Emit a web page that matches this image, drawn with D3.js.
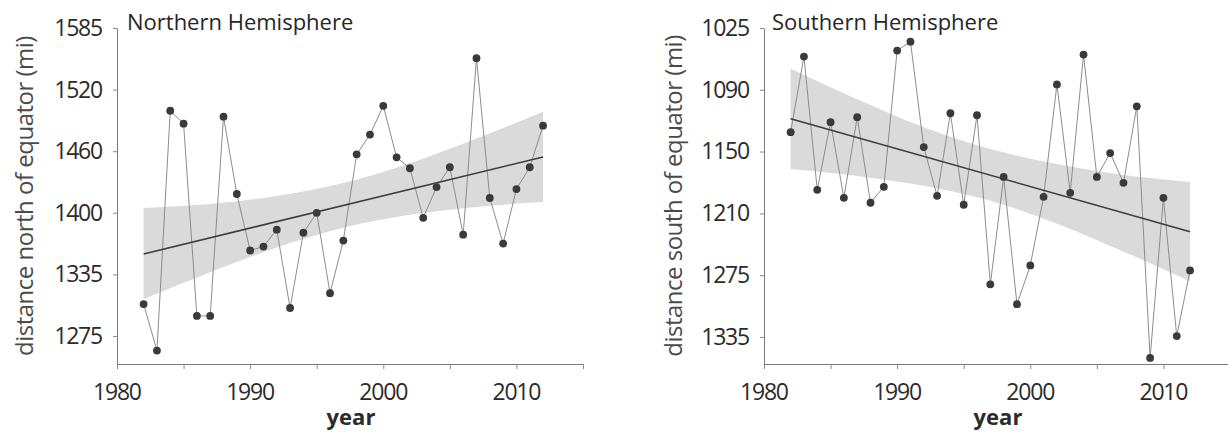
<!DOCTYPE html>
<html>
<head>
<meta charset="utf-8">
<script src="https://cdn.jsdelivr.net/npm/d3@7"></script>
<style>
  body { margin: 0; background: #fff; }
  svg text { font-family: "Open Sans", sans-serif; }
</style>
</head>
<body>
<svg id="chart" width="1228" height="432"></svg>
<script>
// data (miles)
var years = [1982, 1983, 1984, 1985, 1986, 1987, 1988, 1989, 1990, 1991,
             1992, 1993, 1994, 1995, 1996, 1997, 1998, 1999, 2000, 2001,
             2002, 2003, 2004, 2005, 2006, 2007, 2008, 2009, 2010, 2011, 2012];

var northValues = [1306, 1259, 1501, 1488, 1294, 1294, 1495, 1417, 1360, 1364,
                   1381, 1302, 1378, 1398, 1317, 1370, 1457, 1477, 1506, 1454,
                   1443, 1393, 1424, 1444, 1376, 1554, 1413, 1367, 1422, 1444, 1486];

var southValues = [1130, 1054, 1188, 1120, 1196, 1115, 1201, 1185, 1048, 1039,
                   1145, 1194, 1111, 1203, 1113, 1283, 1175, 1303, 1264, 1195,
                   1082, 1191, 1052, 1175, 1151, 1181, 1104, 1357, 1196, 1335, 1269];

var trendYears = [1982, 2012];
var northTrend = [1356.5, 1454.4];
var southTrend = [1116.5, 1230.1];

var bandYears = [1982, 1987, 1992, 1997, 2002, 2007, 2012];
var northUpper = [1403, 1407, 1415, 1428, 1448, 1473, 1500];
var northLower = [1311, 1338, 1363, 1383, 1396, 1404, 1409];
var southUpper = [1066, 1097, 1125, 1147, 1162, 1173, 1180];
var southLower = [1167, 1174, 1184, 1199, 1222, 1250, 1280];

var xTickValues = [1980, 1985, 1990, 1995, 2000, 2005, 2010, 2015];
var northTickValues = [1584.5, 1522.3, 1460.2, 1398.1, 1335.9, 1273.8];
var northTickLabels = ["1585", "1520", "1460", "1400", "1335", "1275"];
var southTickValues = [1025.3, 1087.4, 1149.5, 1211.7, 1273.8, 1335.9];
var southTickLabels = ["1025", "1090", "1150", "1210", "1275", "1335"];

var svg = d3.select("#chart");

function drawPanel(p) {
  var x = d3.scaleLinear().domain([1980, 2015]).range([p.x0, p.x0 + 466]);
  var y = d3.scaleLinear().domain(p.yDomain).range([364, 28]);
  var g = svg.append("g");

  // confidence band
  var band = bandYears.map(function (yr, i) {
    return { yr: yr, hi: p.upper[i], lo: p.lower[i] };
  });
  g.append("path")
    .datum(band)
    .attr("fill", "#dadadb")
    .attr("d", d3.area()
      .curve(d3.curveMonotoneX)
      .x(function (d) { return x(d.yr); })
      .y0(function (d) { return y(d.lo); })
      .y1(function (d) { return y(d.hi); }));

  // axes
  var xAxis = d3.axisBottom(x)
    .tickValues(xTickValues)
    .tickSize(5).tickSizeOuter(0).tickPadding(15)
    .tickFormat(function (d) { return d % 10 === 0 ? d : ""; });
  var gx = g.append("g").attr("transform", "translate(0,364)").call(xAxis);

  var yAxis = d3.axisLeft(y)
    .tickValues(p.tickValues)
    .tickSize(4).tickSizeOuter(0).tickPadding(11)
    .tickFormat(function (d, i) { return p.tickLabels[i]; });
  var gy = g.append("g").attr("transform", "translate(" + p.x0 + ",0)").call(yAxis);

  [gx, gy].forEach(function (a) {
    a.select(".domain").attr("stroke", "#7a7a7a");
    a.selectAll(".tick line").attr("stroke", "#8a8a8a");
    a.selectAll(".tick text")
      .attr("fill", "#2b2b2b")
      .style("font-size", "23px")
      .style("letter-spacing", "-1.2px");
  });
  gx.selectAll(".tick text").attr("dx", "-0.6px");

  // series line
  var pts = years.map(function (yr, i) { return { yr: yr, v: p.values[i] }; });
  g.append("path")
    .datum(pts)
    .attr("fill", "none")
    .attr("stroke", "#8c8c8c")
    .attr("stroke-width", 1)
    .attr("d", d3.line()
      .x(function (d) { return x(d.yr); })
      .y(function (d) { return y(d.v); }));

  // trend line
  g.append("path")
    .datum(trendYears.map(function (yr, i) { return { yr: yr, v: p.trend[i] }; }))
    .attr("fill", "none")
    .attr("stroke", "#3c3c3c")
    .attr("stroke-width", 1.6)
    .attr("d", d3.line()
      .x(function (d) { return x(d.yr); })
      .y(function (d) { return y(d.v); }));

  g.selectAll("circle")
    .data(pts)
    .enter().append("circle")
    .attr("cx", function (d) { return x(d.yr); })
    .attr("cy", function (d) { return y(d.v); })
    .attr("r", 3.9)
    .attr("fill", "#3a3a3a");

  // labels
  g.append("text")
    .attr("x", p.titleX).attr("y", 30)
    .attr("fill", "#262626")
    .style("font-size", "22px")
    .text(p.title);

  g.append("text")
    .attr("transform", "translate(" + p.labelX + ",196) rotate(-90)")
    .attr("text-anchor", "middle")
    .attr("fill", "#4a4a4a")
    .style("font-size", "24px")
    .style("letter-spacing", "-0.5px")
    .text(p.yLabel);

  g.append("text")
    .attr("x", p.x0 + 234).attr("y", 425)
    .attr("text-anchor", "middle")
    .attr("fill", "#2b2b2b")
    .style("font-size", "22px")
    .style("font-weight", "bold")
    .text("year");
}

drawPanel({
  x0: 117,
  yDomain: [1245.5, 1584.5],
  values: northValues, trend: northTrend,
  upper: northUpper, lower: northLower,
  tickValues: northTickValues, tickLabels: northTickLabels,
  title: "Northern Hemisphere", titleX: 127,
  yLabel: "distance north of equator (mi)", labelX: 33
});

drawPanel({
  x0: 764,
  yDomain: [1363.1, 1025.3],
  values: southValues, trend: southTrend,
  upper: southUpper, lower: southLower,
  tickValues: southTickValues, tickLabels: southTickLabels,
  title: "Southern Hemisphere", titleX: 772,
  yLabel: "distance south of equator (mi)", labelX: 682
});
</script>
</body>
</html>
